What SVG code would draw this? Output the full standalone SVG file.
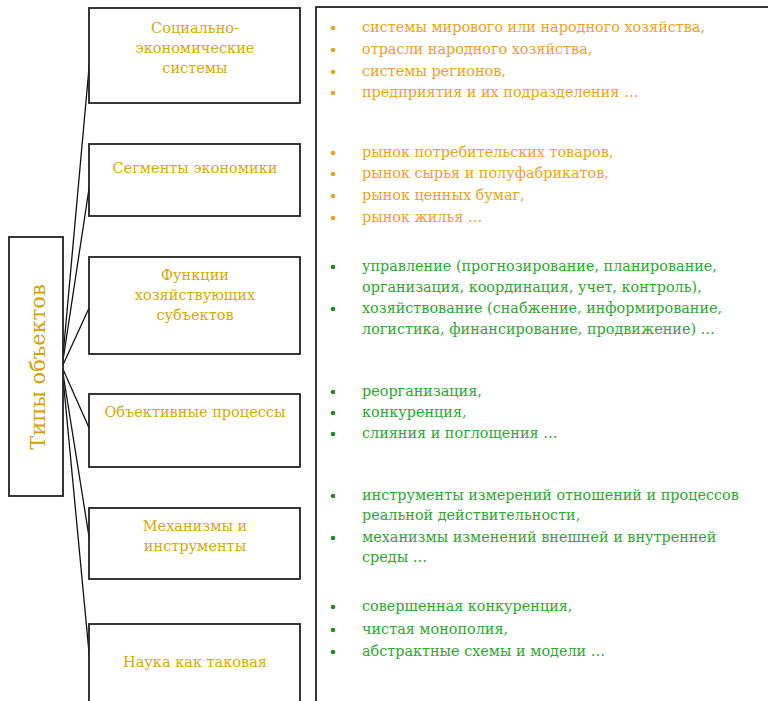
<svg xmlns="http://www.w3.org/2000/svg" width="768" height="701" viewBox="0 0 768 701">
<style>
.box{fill:#fff;stroke:#222;stroke-width:1.8}
.lbl{font-family:"DejaVu Serif","Liberation Serif",serif;font-size:14.5px;fill:#D6AA00;text-anchor:middle}
.ttl{font-family:"DejaVu Serif","Liberation Serif",serif;font-size:21px;fill:#D6A000;text-anchor:middle}
.or{font-family:"DejaVu Serif","Liberation Serif",serif;font-size:14.4px;fill:#EDA21A}
.gr{font-family:"DejaVu Serif","Liberation Serif",serif;font-size:14.4px;fill:#2CA82C}
.bo{fill:#EDA21A}
.bg{fill:#1E8E1E}
.con{stroke:#111;stroke-width:1.3;fill:none}
</style>
<rect width="768" height="701" fill="#fff"/>
<g id="details">
<rect class="box" x="316" y="7" width="520" height="720"/>
<g class="or">
<text x="362" y="32">системы мирового или народного хозяйства,</text>
<text x="362" y="54">отрасли народного хозяйства,</text>
<text x="362" y="76">системы регионов,</text>
<text x="362" y="97">предприятия и их подразделения …</text>
<text x="362" y="157">рынок потребительских товаров,</text>
<text x="362" y="178">рынок сырья и полуфабрикатов,</text>
<text x="362" y="200">рынок ценных бумаг,</text>
<text x="362" y="222">рынок жилья …</text>
</g>
<g class="bo">
<circle cx="333" cy="28" r="2.3"/><circle cx="333" cy="50" r="2.3"/><circle cx="333" cy="72" r="2.3"/><circle cx="333" cy="93" r="2.3"/>
<circle cx="333" cy="153" r="2.3"/><circle cx="333" cy="174" r="2.3"/><circle cx="333" cy="196" r="2.3"/><circle cx="333" cy="218" r="2.3"/>
</g>
<g class="gr">
<text x="362" y="271">управление (прогнозирование, планирование,</text>
<text x="362" y="292">организация, координация, учет, контроль),</text>
<text x="362" y="313">хозяйствование (снабжение, информирование,</text>
<text x="362" y="334">логистика, финансирование, продвижение) …</text>
<text x="362" y="396">реорганизация,</text>
<text x="362" y="417">конкуренция,</text>
<text x="362" y="438">слияния и поглощения …</text>
<text x="362" y="500">инструменты измерений отношений и процессов</text>
<text x="362" y="520">реальной действительности,</text>
<text x="362" y="542">механизмы изменений внешней и внутренней</text>
<text x="362" y="562">среды …</text>
<text x="362" y="611">совершенная конкуренция,</text>
<text x="362" y="634">чистая монополия,</text>
<text x="362" y="656">абстрактные схемы и модели …</text>
</g>
<g class="bg">
<circle cx="333" cy="267" r="2.3"/><circle cx="333" cy="309" r="2.3"/>
<circle cx="333" cy="392" r="2.3"/><circle cx="333" cy="413" r="2.3"/><circle cx="333" cy="434" r="2.3"/>
<circle cx="333" cy="496" r="2.3"/><circle cx="333" cy="538" r="2.3"/>
<circle cx="333" cy="607" r="2.3"/><circle cx="333" cy="630" r="2.3"/><circle cx="333" cy="652" r="2.3"/>
</g>
</g>
<g id="connectors">
<path class="con" d="M62 367 L90 57"/>
<path class="con" d="M62 367 L90 182"/>
<path class="con" d="M62 367 L90 306"/>
<path class="con" d="M62 367 L90 430"/>
<path class="con" d="M62 367 L90 543"/>
<path class="con" d="M62 367 L90 663"/>
</g>
<g id="root">
<rect class="box" x="9" y="237" width="54" height="259"/>
<text class="ttl" transform="translate(45 367) rotate(-90)">Типы объектов</text>
</g>
<g id="n1">
<rect class="box" x="89" y="8" width="211" height="95"/>
<text class="lbl" x="195" y="33">Социально-</text>
<text class="lbl" x="195" y="53">экономические</text>
<text class="lbl" x="195" y="73">системы</text>
</g>
<g id="n2">
<rect class="box" x="89" y="144" width="211" height="72"/>
<text class="lbl" x="195" y="173">Сегменты экономики</text>
</g>
<g id="n3">
<rect class="box" x="89" y="257" width="211" height="97"/>
<text class="lbl" x="195" y="280">Функции</text>
<text class="lbl" x="195" y="300">хозяйствующих</text>
<text class="lbl" x="195" y="320">субъектов</text>
</g>
<g id="n4">
<rect class="box" x="89" y="394" width="211" height="73"/>
<text class="lbl" x="195" y="417">Объективные процессы</text>
</g>
<g id="n5">
<rect class="box" x="89" y="508" width="211" height="71"/>
<text class="lbl" x="195" y="531">Механизмы и</text>
<text class="lbl" x="195" y="551">инструменты</text>
</g>
<g id="n6">
<rect class="box" x="89" y="624" width="211" height="100"/>
<text class="lbl" x="195" y="667">Наука как таковая</text>
</g>
</svg>
